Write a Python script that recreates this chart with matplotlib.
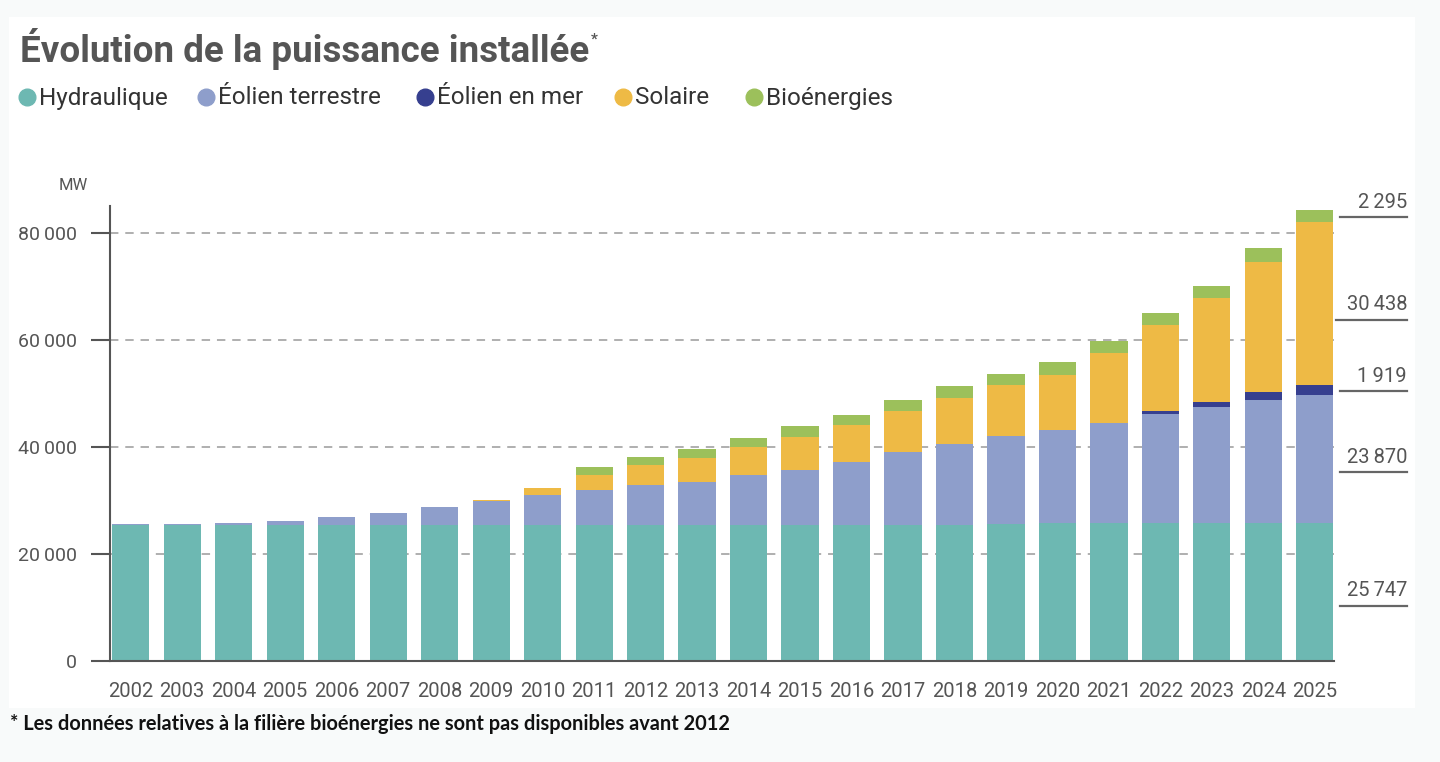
import numpy as np
import matplotlib
matplotlib.use("Agg")
import matplotlib.pyplot as plt
from matplotlib import font_manager
from matplotlib.lines import Line2D
from matplotlib.patches import Rectangle
import matplotlib.transforms as mtransforms

# ---------------- data ----------------
years = list(range(2002, 2026))
series_names = ["Hydraulique", "Éolien terrestre", "Éolien en mer", "Solaire", "Bioénergies"]
hydro = [25400, 25400, 25400, 25400, 25400, 25400, 25400, 25400, 25400, 25400, 25400, 25400,
         25400, 25400, 25500, 25500, 25500, 25600, 25700, 25700, 25700, 25700, 25700, 25747]
wind_onshore = [150, 250, 360, 700, 1500, 2200, 3300, 4400, 5600, 6600, 7400, 8100,
                9300, 10300, 11700, 13500, 15000, 16500, 17500, 18700, 20500, 21800, 23000, 23870]
wind_offshore = [0, 0, 0, 0, 0, 0, 0, 0, 0, 0, 0, 0,
                 0, 0, 0, 0, 0, 0, 0, 0, 500, 900, 1500, 1919]
solar = [0, 0, 0, 0, 0, 0, 80, 270, 1250, 2800, 3900, 4500,
         5300, 6200, 6900, 7700, 8600, 9500, 10300, 13100, 16000, 19400, 24400, 30438]
bio = [0, 0, 0, 0, 0, 0, 0, 0, 0, 1500, 1500, 1600,
       1700, 2000, 1900, 2000, 2200, 2100, 2400, 2300, 2300, 2300, 2500, 2295]
y_ticks = [0, 20000, 40000, 60000, 80000]

colors = ["#6db8b2", "#8e9ecb", "#363f8f", "#eeba45", "#9cc05b"]
series = [hydro, wind_onshore, wind_offshore, solar, bio]

# ---------------- fonts ----------------
names = {f.name for f in font_manager.fontManager.ttflist}
if "Liberation Sans Narrow" in names:
    COND = dict(family=["Liberation Sans Narrow", "DejaVu Sans"])
else:
    COND = dict(family=["Roboto", "DejaVu Sans"])

def fmt(v):
    return f"{v:,}".replace(",", "\u2009")

W, H = 1440, 762
fig = plt.figure(figsize=(W / 100, H / 100), dpi=100)
fig.patch.set_facecolor("#f8fafa")
fig.add_artist(Rectangle((9 / W, 1 - 708 / H), 1406 / W, 691 / H, transform=fig.transFigure,
                         facecolor="white", edgecolor="none", zorder=-10))

ax = fig.add_axes([110 / W, 101 / H, 1224 / W, 455 / H])
ax.set_facecolor("none")
x = np.arange(len(years))
bottom = np.zeros(len(years))
for vals, col, name in zip(series, colors, series_names):
    v = np.array(vals, dtype=float)
    ax.bar(x, v, width=0.72, bottom=bottom, color=col, label=name, zorder=3, linewidth=0)
    bottom += v

ax.set_xlim(-0.4, 23.37)
ax.set_ylim(0, 85000)
ax.set_xticks(x)
ax.set_xticklabels([str(y) for y in years], fontsize=14.5, color="#555555", **COND)
ax.set_yticks(y_ticks)
ax.set_yticklabels([fmt(v) for v in y_ticks], fontsize=14, color="#555555", **COND)
ax.tick_params(axis="x", length=0, pad=15)
ax.tick_params(axis="y", direction="out", length=14, width=1.5, color="#555555", pad=10)
for s in ["top", "right"]:
    ax.spines[s].set_visible(False)
for s in ["left", "bottom"]:
    ax.spines[s].set_color("#555555")
    ax.spines[s].set_linewidth(1.5)
ax.spines["bottom"].set_zorder(4)
ax.yaxis.grid(True, linestyle=(0, (5.5, 4.5)), color="#9a9a9a", linewidth=1.1, zorder=0)
ax.set_axisbelow(True)

# MW unit
fig.text(73 / W, 1 - 186 / H, "MW", ha="center", va="center", fontsize=12, color="#555555", **COND)

# right-side annotations for 2025
trans = mtransforms.blended_transform_factory(ax.transAxes, ax.transData)
last = [s[-1] for s in series]
cum = 0
for v in last:
    yl = cum + 0.4 * v
    x0 = 1.0049 if v != last[3] else 1.0016
    ax.plot([x0, 1.0597], [yl, yl], transform=trans, color="#666666", lw=1.6, clip_on=False)
    ax.annotate(fmt(v), xy=(1.0597, yl), xycoords=trans, xytext=(0, 4), textcoords="offset points",
                ha="right", va="bottom", fontsize=14.5, color="#555555", annotation_clip=False, **COND)
    cum += v

# title
t = fig.text(20 / W, 1 - 62 / H, "Évolution de la puissance installée", ha="left", va="baseline",
             fontsize=26.5, fontweight="bold", color="#555555", **COND)
fig.canvas.draw()
bb = t.get_window_extent(renderer=fig.canvas.get_renderer())
fig.text((bb.x1 + 2) / W, 1 - 40 / H, "*", ha="left", va="center", fontsize=11,
         fontweight="bold", color="#555555", **COND)

# legend
leg_x = [27, 206, 425, 623, 754]
for lx, col, name in zip(leg_x, colors, series_names):
    fig.add_artist(Line2D([lx / W], [1 - 97 / H], marker="o", markersize=12, color=col,
                          linestyle="none", transform=fig.transFigure))
    fig.text((lx + 12) / W, 1 - 98 / H, name, ha="left", va="center", fontsize=17.5,
             color="#333333", **COND)

# footnote
fig.text(10 / W, 1 - 724 / H, "* Les données relatives à la filière bioénergies ne sont pas disponibles avant 2012",
         ha="left", va="center", fontsize=14.4, fontweight="bold", color="#111111",
         family=["Lato", "DejaVu Sans"])

fig.savefig("out.png", dpi=100, facecolor=fig.get_facecolor())
